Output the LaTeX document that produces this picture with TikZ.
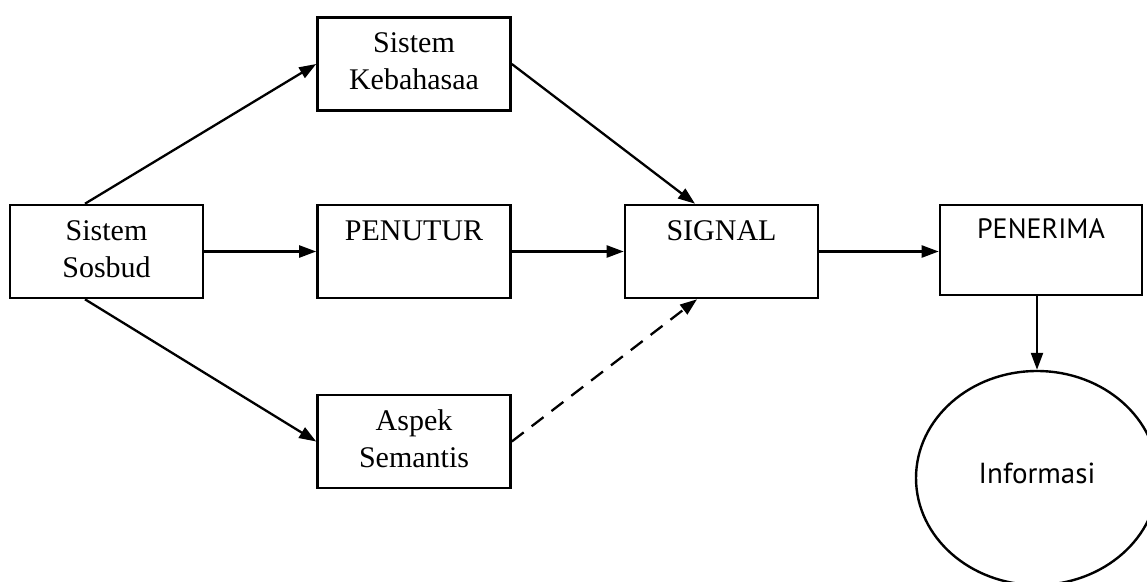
\documentclass[tikz,border=0pt]{standalone}
\usepackage{fontspec}
\setmainfont{Liberation Serif}
\newfontfamily\sansf{PT Sans}
\usetikzlibrary{arrows.meta,shapes.geometric}

\tikzset{
  x=1pt, y=-1pt,
  blok/.style={draw, line width=2.6pt, rectangle, minimum width=193pt,
    minimum height=93pt, inner sep=0pt, align=center,
    font=\fontsize{30}{37}\selectfont},
  panah/.style={line width=2.3pt, -{Triangle[length=17pt,width=12pt]}},
  putus/.style={panah, dash pattern=on 15pt off 10pt}
}

\begin{document}
\begin{tikzpicture}
\clip (0,0) rectangle (1147,581);
\fill[white] (0,0) rectangle (1147,581);

% boxes
\node[blok] (sos) at (106.5,251.5) {\strut Sistem\\\strut Sosbud};
\node[blok] (keb) at (414,64) {\strut Sistem\\\strut Kebahasaa};
\node[blok] (pen) at (414,251.5) {\strut PENUTUR\\\strut};
\node[blok] (asp) at (414,441.5) {\strut Aspek\\\strut Semantis};
\node[blok] (sig) at (721.5,251.5) {\strut SIGNAL\\\strut};
\node[blok, minimum width=202pt, minimum height=90pt,
  font=\sansf\fontsize{28}{37}\selectfont] (ter) at (1041,250) {\strut PENERIMA\\\strut};

% result
\node[draw, ellipse, line width=2.4pt, minimum width=242pt, minimum height=214pt,
  inner sep=0pt, font=\sansf\fontsize{29}{35}\selectfont] (info) at (1037,478)
  {\raisebox{9pt}{Informasi}};

% connectors
\draw[panah] ([xshift=-21.5pt]sos.north) -- (keb.west);
\draw[panah] (sos.east) -- (pen.west);
\draw[panah] ([xshift=-21.5pt]sos.south) -- (asp.west);
\draw[panah] (keb.east) -- ([xshift=-26.5pt]sig.north);
\draw[panah] (pen.east) -- (sig.west);
\draw[putus] (asp.east) -- ([xshift=-24.5pt]sig.south);
\draw[panah] (sig.east) -- (sig.east -| ter.west);
\draw[panah] ([xshift=-4pt]ter.south) -- (info.north);
\end{tikzpicture}
\end{document}
